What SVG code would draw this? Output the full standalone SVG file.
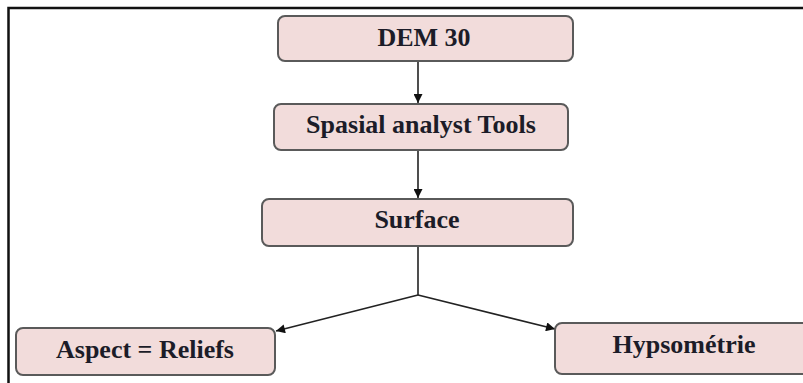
<svg xmlns="http://www.w3.org/2000/svg" width="803" height="383" viewBox="0 0 803 383">
<style>
.box{fill:#f2dcdb;stroke:#5a5a5a;stroke-width:2}
.lbl{font-family:"Liberation Serif","Times New Roman",serif;font-weight:bold;font-size:26px;fill:#1c1c28;text-anchor:middle}
.con{stroke:#222;stroke-width:1.6;fill:none}
</style>
<defs>
<marker id="ah" viewBox="0 0 10 10" refX="10" refY="5" markerWidth="10" markerHeight="9" markerUnits="userSpaceOnUse" orient="auto">
<path d="M0,0 L10,5 L0,10 Z" fill="#111"/>
</marker>
</defs>
<rect x="8.5" y="8" width="805" height="390" fill="#fff" stroke="#111" stroke-width="2.5"/>
<g id="connectors">
<line class="con" x1="418" y1="61" x2="418" y2="103" marker-end="url(#ah)"/>
<line class="con" x1="418" y1="150" x2="418" y2="198" marker-end="url(#ah)"/>
<polyline class="con" points="418,246 418,295"/>
<line class="con" x1="418" y1="295" x2="276" y2="331" marker-end="url(#ah)"/>
<line class="con" x1="418" y1="295" x2="555" y2="329" marker-end="url(#ah)"/>
</g>
<g id="dem">
<rect class="box" x="278" y="16" width="295" height="45" rx="7"/>
<text class="lbl" x="424" y="46">DEM 30</text>
</g>
<g id="spatial">
<rect class="box" x="274" y="104" width="294" height="46" rx="7"/>
<text class="lbl" x="421" y="133">Spasial analyst Tools</text>
</g>
<g id="surface">
<rect class="box" x="262" y="199" width="311" height="47" rx="7"/>
<text class="lbl" x="417" y="228">Surface</text>
</g>
<g id="aspect">
<rect class="box" x="16" y="328" width="259" height="47" rx="7"/>
<text class="lbl" x="145" y="358">Aspect = Reliefs</text>
</g>
<g id="hypso">
<rect class="box" x="555" y="323" width="258" height="51" rx="7"/>
<text class="lbl" x="684" y="353">Hypsométrie</text>
</g>
</svg>
